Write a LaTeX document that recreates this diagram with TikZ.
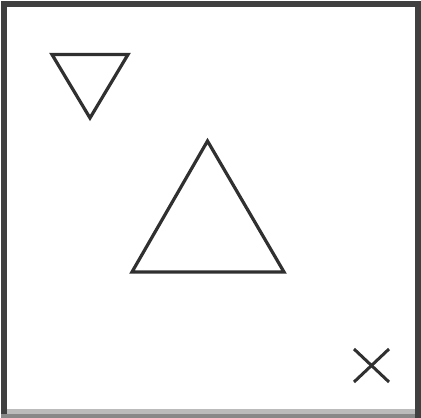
\documentclass[tikz,border=0pt]{standalone}
\definecolor{frame}{HTML}{404040}
\definecolor{ink}{HTML}{303030}
\definecolor{lightband}{HTML}{BBBBBB}
\definecolor{midband}{HTML}{888888}
\tikzset{
  outlinestroke/.style={draw=ink, line width=3.2pt, line join=miter},
}
\begin{document}
\begin{tikzpicture}[x=1pt,y=-1pt]
  \useasboundingbox (0,0) rectangle (421,418);
  \fill[white] (0,0) rectangle (421,418);
  % bottom bands
  \fill[lightband] (1,409) rectangle (421,414);
  \fill[midband] (1,414) rectangle (421,418);
  % frame
  \fill[frame] (1,1) rectangle (421,6.5);
  \fill[frame] (1,1) rectangle (7,414);
  \fill[frame] (415,1) rectangle (421,418);
  % small inverted triangle
  \draw[outlinestroke] (52,54.5) -- (128,54.5) -- (90,118) -- cycle;
  % large triangle
  \draw[outlinestroke] (207.5,141) -- (284,272) -- (132,272) -- cycle;
  % cross
  \draw[outlinestroke, line width=3pt] (354,349) -- (389,382);
  \draw[outlinestroke, line width=3pt] (354,382) -- (389,349);
\end{tikzpicture}
\end{document}
